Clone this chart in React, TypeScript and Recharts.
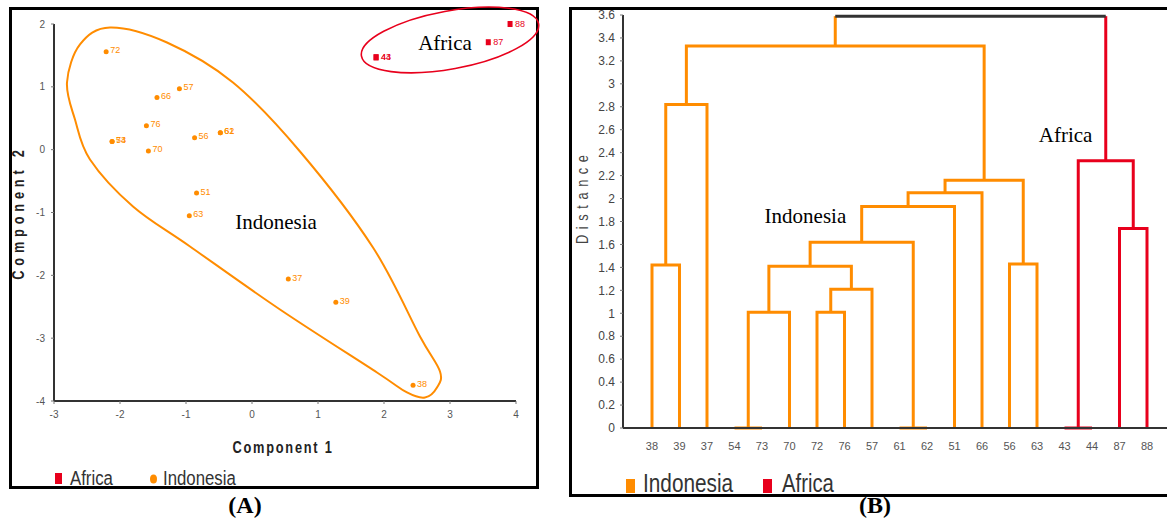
import React from 'react';
import { ScatterChart, Scatter, LineChart, Line, XAxis, YAxis, ReferenceDot } from 'recharts';

const ORANGE = '#ff8c00';
const RED = '#e8001c';
const SANS = '"Liberation Sans", Arial, sans-serif';
const SERIF = '"Liberation Serif", "Times New Roman", serif';

// (A) PCA scores
const africaPoints = [
  { name: '43', x: 1.88, y: 1.47 },
  { name: '44', x: 1.88, y: 1.47 },
  { name: '87', x: 3.58, y: 1.71 },
  { name: '88', x: 3.91, y: 2.0 },
];
const indonesiaPoints = [
  { name: '72', x: -2.21, y: 1.56 },
  { name: '66', x: -1.44, y: 0.83 },
  { name: '57', x: -1.1, y: 0.97 },
  { name: '76', x: -1.6, y: 0.38 },
  { name: '54', x: -2.12, y: 0.13 },
  { name: '73', x: -2.12, y: 0.13 },
  { name: '70', x: -1.57, y: -0.02 },
  { name: '56', x: -0.87, y: 0.19 },
  { name: '61', x: -0.48, y: 0.27 },
  { name: '62', x: -0.48, y: 0.27 },
  { name: '51', x: -0.84, y: -0.69 },
  { name: '63', x: -0.95, y: -1.05 },
  { name: '37', x: 0.55, y: -2.06 },
  { name: '39', x: 1.27, y: -2.43 },
  { name: '38', x: 2.44, y: -3.75 },
];
const pcaXTicks = [-3, -2, -1, 0, 1, 2, 3, 4];
const pcaYTicks = [-4, -3, -2, -1, 0, 1, 2];

// (B) dendrogram
const leaves = ['38', '39', '37', '54', '73', '70', '72', '76', '57', '61', '62', '51', '66', '56', '63', '43', '44', '87', '88'];
const merges = [
  { id: 'n1', left: '38', right: '39', height: 1.42, cluster: 'Indonesia' },
  { id: 'n2', left: 'n1', right: '37', height: 2.82, cluster: 'Indonesia' },
  { id: 'n3', left: '54', right: '73', height: 0, cluster: 'Indonesia' },
  { id: 'n4', left: 'n3', right: '70', height: 1.01, cluster: 'Indonesia' },
  { id: 'n5', left: '72', right: '76', height: 1.01, cluster: 'Indonesia' },
  { id: 'n6', left: 'n5', right: '57', height: 1.21, cluster: 'Indonesia' },
  { id: 'n7', left: 'n4', right: 'n6', height: 1.41, cluster: 'Indonesia' },
  { id: 'n8', left: '61', right: '62', height: 0, cluster: 'Indonesia' },
  { id: 'n9', left: 'n7', right: 'n8', height: 1.62, cluster: 'Indonesia' },
  { id: 'n10', left: 'n9', right: '51', height: 1.93, cluster: 'Indonesia' },
  { id: 'n11', left: 'n10', right: '66', height: 2.05, cluster: 'Indonesia' },
  { id: 'n12', left: '56', right: '63', height: 1.43, cluster: 'Indonesia' },
  { id: 'n13', left: 'n11', right: 'n12', height: 2.16, cluster: 'Indonesia' },
  { id: 'n14', left: 'n2', right: 'n13', height: 3.33, cluster: 'Indonesia' },
  { id: 'a1', left: '43', right: '44', height: 0, cluster: 'Africa' },
  { id: 'a2', left: '87', right: '88', height: 1.74, cluster: 'Africa' },
  { id: 'a3', left: 'a1', right: 'a2', height: 2.33, cluster: 'Africa' },
  { id: 'root', left: 'n14', right: 'a3', height: 3.59, cluster: 'root' },
];
const distanceTicks = [0, 0.2, 0.4, 0.6, 0.8, 1, 1.2, 1.4, 1.6, 1.8, 2, 2.2, 2.4, 2.6, 2.8, 3, 3.2, 3.4, 3.6];

const clusterColor: Record<string, string> = { Indonesia: ORANGE, Africa: RED, root: '#333' };

// leaf index -> x, merge node -> midpoint of its children
const nodes: Record<string, { x: number; y: number; cluster: string }> = {};
leaves.forEach((l, i) => {
  nodes[l] = { x: i, y: 0, cluster: '' };
});
const segments = merges.flatMap((m) => {
  const a = nodes[m.left];
  const b = nodes[m.right];
  nodes[m.id] = { x: (a.x + b.x) / 2, y: m.height, cluster: m.cluster };
  if (m.cluster !== 'root') {
    return [{
      key: m.id,
      color: clusterColor[m.cluster],
      pts: [{ x: a.x, y: a.y }, { x: a.x, y: m.height }, { x: b.x, y: m.height }, { x: b.x, y: b.y }],
    }];
  }
  return [
    { key: m.id + 'L', color: clusterColor[a.cluster], pts: [{ x: a.x, y: a.y }, { x: a.x, y: m.height }] },
    { key: m.id + 'R', color: clusterColor[b.cluster], pts: [{ x: b.x, y: b.y }, { x: b.x, y: m.height }] },
    { key: m.id + 'T', color: '#333', pts: [{ x: a.x, y: m.height }, { x: b.x, y: m.height }] },
  ];
});

// hand-drawn Indonesia outline, offsets from its anchor point
const indonesiaOutline = [
  [-186, -139], [-178, -102], [-163, -62], [-120, -15], [-63, 25], [27, 88], [124, 151], [154, 171],
  [172, 176], [184, 166], [187, 150], [167, 115], [120, 26], [47, -70], [-20, -139], [-86, -179],
  [-143, -194], [-173, -177],
];

const closedSpline = (pts: number[][]) => {
  const n = pts.length;
  let d = `M ${pts[0][0]} ${pts[0][1]}`;
  for (let i = 0; i < n; i++) {
    const p0 = pts[(i - 1 + n) % n];
    const p1 = pts[i];
    const p2 = pts[(i + 1) % n];
    const p3 = pts[(i + 2) % n];
    const c1 = [p1[0] + (p2[0] - p0[0]) / 6, p1[1] + (p2[1] - p0[1]) / 6];
    const c2 = [p2[0] - (p3[0] - p1[0]) / 6, p2[1] - (p3[1] - p1[1]) / 6];
    d += ` C ${c1[0]} ${c1[1]} ${c2[0]} ${c2[1]} ${p2[0]} ${p2[1]}`;
  }
  return d + ' Z';
};

const IndonesiaMarker = ({ cx, cy, payload }: any) => (
  <g>
    <circle cx={cx} cy={cy} r={2.5} fill={ORANGE} />
    <text x={cx + 4} y={cy + 1.5} fontSize={9} fill={ORANGE} fontFamily={SANS}>{payload.name}</text>
  </g>
);

const AfricaMarker = ({ cx, cy, payload }: any) => (
  <g>
    <rect x={cx - 2.5} y={cy - 3} width={5} height={6} fill={RED} />
    <text x={cx + 5} y={cy + 3} fontSize={9} fill={RED} fontFamily={SANS}>{payload.name}</text>
  </g>
);

const IndonesiaHull = ({ cx, cy }: any) => (
  <path transform={`translate(${cx},${cy})`} d={closedSpline(indonesiaOutline)} fill="none" stroke={ORANGE} strokeWidth={2} />
);

const AfricaHull = ({ cx, cy }: any) => (
  <ellipse cx={0} cy={0} rx={90} ry={29} transform={`translate(${cx},${cy}) rotate(-10.4)`} fill="none" stroke={RED} strokeWidth={1.6} />
);

const groupText = (value: string) => ({ cx, cy }: any) => (
  <text x={cx} y={cy} textAnchor="middle" fontSize={21} fontFamily={SERIF} fill="#000">{value}</text>
);

const xLabelA = (props: any) => {
  const { x, y, width } = props.viewBox;
  return (
    <text transform={`translate(${x + width / 2 - 2},${y + 46}) scale(0.8,1)`} textAnchor="middle" dominantBaseline="central"
      fontSize={16} fontWeight="bold" letterSpacing={2.2} fill="#222" fontFamily={SANS}>Component 1</text>
  );
};

const yLabelA = (props: any) => {
  const { x, y, height } = props.viewBox;
  return (
    <text transform={`translate(${x - 6},${y + height / 2}) rotate(-90) scale(0.8,1)`} textAnchor="middle" dominantBaseline="central"
      fontSize={16} fontWeight="bold" letterSpacing={6} fill="#222" fontFamily={SANS}>Component 2</text>
  );
};

const yLabelB = (props: any) => {
  const { x, y, height } = props.viewBox;
  return (
    <text transform={`translate(${x - 1},${y + height * 0.44}) rotate(-90) scale(0.8,1)`} textAnchor="middle" dominantBaseline="central"
      fontSize={16} letterSpacing={7} fill="#444" fontFamily={SANS}>Distance</text>
  );
};

const axisLine = { stroke: '#333', strokeWidth: 2 };

const App = () => {
  return (
    <div style={{ position: 'absolute', left: 0, top: 0, width: 1167, height: 527, overflow: 'hidden', background: '#fff' }}>
      <div style={{ position: 'absolute', left: 9, top: 7, width: 530, height: 482, border: '3px solid #000', boxSizing: 'border-box' }} />
      <div style={{ position: 'absolute', left: 569, top: 7, width: 620, height: 490, border: '3px solid #000', boxSizing: 'border-box' }} />

      <div style={{ position: 'absolute', left: 0, top: 0 }}>
        <ScatterChart width={540} height={470} margin={{ top: 24, right: 24, bottom: 39, left: 24 }}>
          <XAxis type="number" dataKey="x" domain={[-3, 4]} ticks={pcaXTicks} interval={0} height={30}
            tickSize={3} tickMargin={7} axisLine={axisLine} tickLine={{ stroke: '#777' }}
            tick={{ fontSize: 10, fill: '#555', fontFamily: SANS }} label={xLabelA} />
          <YAxis type="number" dataKey="y" domain={[-4, 2]} ticks={pcaYTicks} interval={0} width={30}
            tickSize={3} tickMargin={6} axisLine={axisLine} tickLine={{ stroke: '#777' }}
            tick={{ fontSize: 10, fill: '#555', fontFamily: SANS }} label={yLabelA} />
          <ReferenceDot x={0.015} y={-1.143} r={0} shape={IndonesiaHull} ifOverflow="visible" />
          <ReferenceDot x={3.0} y={1.746} r={0} shape={AfricaHull} ifOverflow="visible" />
          <ReferenceDot x={0.364} y={-1.27} r={0} shape={groupText('Indonesia')} ifOverflow="visible" />
          <ReferenceDot x={2.924} y={1.587} r={0} shape={groupText('Africa')} ifOverflow="visible" />
          <Scatter name="Africa" data={africaPoints} fill={RED} shape={AfricaMarker} isAnimationActive={false} />
          <Scatter name="Indonesia" data={indonesiaPoints} fill={ORANGE} shape={IndonesiaMarker} isAnimationActive={false} />
        </ScatterChart>
      </div>

      <div style={{ position: 'absolute', left: 560, top: 0 }}>
        <LineChart width={620} height={460} margin={{ top: 15, right: 8, bottom: 2, left: 23 }}>
          <XAxis type="number" dataKey="x" domain={[-1.0545, 18.909]} ticks={leaves.map((_, i) => i)} interval={0}
            tickFormatter={(i: number) => leaves[i]} height={30} tickSize={4} tickMargin={10} tickLine={false}
            axisLine={axisLine} tick={{ fontSize: 11, fill: '#555', fontFamily: SANS }} />
          <YAxis type="number" domain={[0, 3.6]} ticks={distanceTicks} interval={0} width={40}
            tickSize={3} tickMargin={5} axisLine={axisLine} tickLine={{ stroke: '#777' }}
            tick={{ fontSize: 12, fill: '#444', fontFamily: SANS }} label={yLabelB} />
          {segments.map((s) => (
            <Line key={s.key} data={s.pts} dataKey="y" type="linear" stroke={s.color} strokeWidth={3}
              dot={false} activeDot={false} isAnimationActive={false} />
          ))}
          <ReferenceDot x={5.58} y={1.787} r={0} shape={groupText('Indonesia')} ifOverflow="visible" />
          <ReferenceDot x={15.04} y={2.493} r={0} shape={groupText('Africa')} ifOverflow="visible" />
        </LineChart>
      </div>

      <svg width={1167} height={527} style={{ position: 'absolute', left: 0, top: 0, pointerEvents: 'none' }}>
        <rect x={55} y={473} width={7} height={11} fill={RED} />
        <text transform="translate(70,485) scale(0.8,1)" fontSize={21} fill="#333" fontFamily={SANS}>Africa</text>
        <ellipse cx={153.5} cy={479} rx={3.5} ry={4.5} fill={ORANGE} />
        <text transform="translate(163,485) scale(0.8,1)" fontSize={21} fill="#333" fontFamily={SANS}>Indonesia</text>

        <rect x={626} y={479} width={9} height={14} fill={ORANGE} />
        <text transform="translate(643,492) scale(0.8,1)" fontSize={26} fill="#333" fontFamily={SANS}>Indonesia</text>
        <rect x={763} y={479} width={9} height={14} fill={RED} />
        <text transform="translate(782,492) scale(0.78,1)" fontSize={26} fill="#333" fontFamily={SANS}>Africa</text>

        <text x={245} y={513} textAnchor="middle" fontSize={24} fontWeight="bold" fontFamily={SERIF}>(A)</text>
        <text x={875} y={513} textAnchor="middle" fontSize={24} fontWeight="bold" fontFamily={SERIF}>(B)</text>
      </svg>
    </div>
  );
};

export default App;
